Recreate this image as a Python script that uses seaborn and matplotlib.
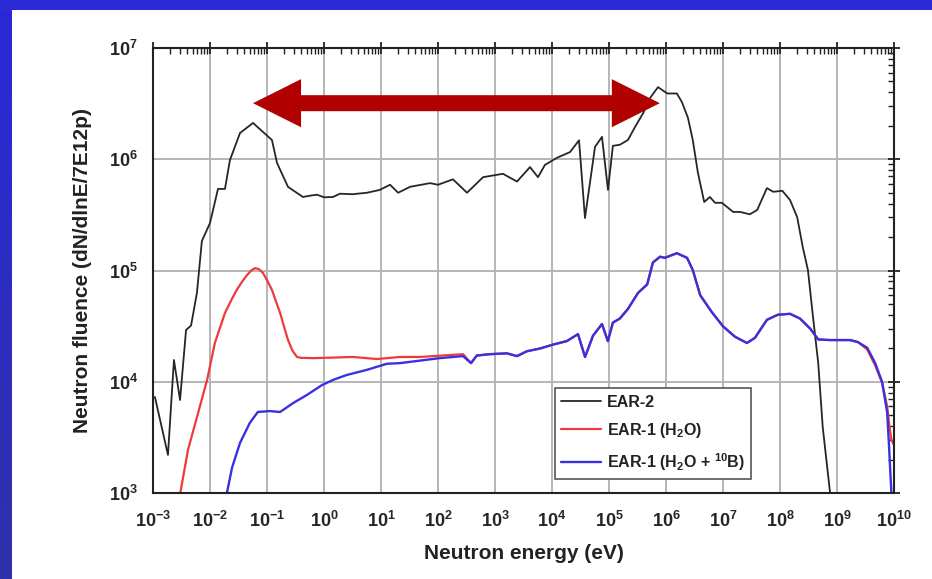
import numpy as np
import pandas as pd
import matplotlib
matplotlib.use("Agg")
import matplotlib.pyplot as plt
import seaborn as sns
from matplotlib.ticker import LogLocator, FuncFormatter, NullFormatter
from matplotlib.patches import Polygon

# ---------------- data ----------------
ear2_E = [1.08e-3, 1.83e-3, 2.33e-3, 2.98e-3, 3.8e-3, 4.65e-3, 5.9e-3, 7.2e-3, 1.0e-2,
          1.38e-2, 1.83e-2, 2.24e-2, 3.36e-2, 5.68e-2, 8.5e-2, 0.122, 0.15, 0.234, 0.427,
          0.56, 0.753, 1.0, 1.44, 1.9, 3.16, 5.68, 9.5, 14.4, 20, 32.3, 72.4, 100, 183, 323,
          617, 1380, 2430, 4110, 5680, 7530, 1.22e4, 2.07e4, 2.98e4, 3.79e4, 5.68e4, 7.53e4,
          9.6e4, 1.17e5, 1.55e5, 2.15e5, 2.86e5, 3.98e5, 5.25e5, 7.24e5, 1.05e6, 1.55e6,
          1.9e6, 2.43e6, 2.95e6, 3.63e6, 4.68e6, 5.89e6, 7.24e6, 9.55e6, 1.51e7, 2.0e7,
          2.95e7, 3.98e7, 5.89e7, 7.59e7, 1.1e8, 1.5e8, 2.0e8, 2.51e8, 3.09e8, 3.8e8,
          4.68e8, 5.62e8, 7.94e8]
ear2_F = [7300, 2200, 15700, 6850, 29200, 32000, 63000, 184000, 267000,
          541000, 541000, 985000, 1.72e6, 2.12e6, 1.76e6, 1.49e6, 925000, 564000, 458000,
          470000, 480000, 455000, 458000, 490000, 485000, 500000, 530000, 590000, 500000,
          565000, 610000, 590000, 660000, 500000,
          690000, 740000, 630000, 850000, 690000, 890000, 1.03e6, 1.16e6, 1.48e6, 296000,
          1.29e6, 1.59e6,
          530000, 1.32e6, 1.35e6, 1.49e6, 1.95e6, 2.6e6, 3.55e6, 4.45e6, 3.9e6, 3.9e6,
          3.27e6, 2.35e6, 1.49e6, 755000, 413000, 458000, 406000, 406000, 336000, 336000,
          320000, 350000, 550000, 510000, 520000, 430000, 302000, 162000, 101000, 38000,
          14800, 3900, 800]

h2o_low_E = [2.9e-3, 4.11e-3, 5.9e-3, 8.9e-3, 1.22e-2, 1.83e-2, 2.4e-2, 2.95e-2, 3.7e-2,
             4.47e-2, 5.3e-2, 6.17e-2, 7.2e-2, 8.5e-2, 0.1, 0.122, 0.145, 0.17, 0.2, 0.234,
             0.28, 0.336, 0.4, 0.646, 3.24, 8.5, 21.4, 48.3, 275]
h2o_low_F = [900, 2440, 4800, 10400, 22400, 41500, 55000, 67000, 80000,
             91000, 100000, 105000, 103000, 95000, 82000, 67000, 52000, 41500, 31000, 23700,
             19000, 16700, 16400, 16300, 16700, 16000, 16700, 16700, 17700]

boron_low_E = [1.9e-2, 2.43e-2, 3.36e-2, 5.0e-2, 6.9e-2, 0.112, 0.17, 0.288, 0.5, 0.92,
               1.45, 2.5, 5.68, 12.6, 21.4, 107, 275]
boron_low_F = [900, 1680, 2820, 4270, 5350, 5450, 5350, 6440, 7600, 9330,
               10400, 11500, 12800, 14500, 14700, 16300, 17000]

ear1_fast_E = [380, 479, 813, 1620, 2430, 3630, 6170, 1.05e4, 1.82e4, 2.86e4, 3.8e4, 5.25e4,
               7.53e4, 9.55e4, 1.17e5, 1.55e5, 2.14e5, 3.24e5, 4.68e5, 5.89e5, 7.86e5,
               9.55e5, 1.55e6, 2.34e6, 2.95e6, 3.98e6, 6.31e6, 1.0e7, 1.62e7, 2.63e7, 3.63e7,
               5.89e7, 9.12e7, 1.5e8, 2.24e8, 3.39e8, 4.68e8, 7.59e8, 1.7e9, 2.34e9]
ear1_fast_F = [14700, 17200, 17700, 18000, 17000, 18800, 19900, 21600, 23200, 26800, 16700,
               26000, 33000, 23200, 34000, 37000, 45000, 63000, 75000, 118000, 133000,
               130000, 143000, 130000, 101000, 60000, 42500, 31500, 25400, 22300, 24800,
               36000, 40000, 40800, 37000, 30000, 24000, 23700, 23700, 22700]

h2o_tail_E = [3.39e9, 4.68e9, 6.17e9, 7.59e9, 8.3e9, 9.0e9, 1.0e10]
h2o_tail_F = [19500, 14000, 9800, 6000, 4000, 3000, 2700]
boron_tail_E = [3.39e9, 4.68e9, 6.17e9, 7.59e9, 8.13e9, 9.2e9]
boron_tail_F = [20200, 14700, 10000, 5300, 2800, 800]

series_labels = ["EAR-2", "EAR-1 (H$_\\mathbf{2}$O)", "EAR-1 (H$_\\mathbf{2}$O + $^\\mathbf{10}$B)"]
series_colors = ["#262626", "#f03a3a", "#3a30e0"]
series_widths = [1.3, 1.6, 1.7]

x_decades = list(range(-3, 11))
y_decades = list(range(3, 8))

# ---------------- figure ----------------
sns.set_theme(style="white")
plt.rcParams["font.family"] = ["Liberation Sans", "DejaVu Sans"]
plt.rcParams["font.weight"] = "bold"
plt.rcParams["mathtext.fontset"] = "custom"
plt.rcParams["mathtext.bf"] = "Liberation Sans:bold"
plt.rcParams["mathtext.rm"] = "Liberation Sans:bold"
plt.rcParams["mathtext.default"] = "bf"

W, H = 932, 579
fig = plt.figure(figsize=(W / 100, H / 100), dpi=100, facecolor="white")

# blue frame at left and top (slide background)
left_band = np.zeros((H, 12, 3))
t = np.linspace(0, 1, H)[:, None]
left_band[:, :, 0] = (42 + 6 * t) / 255
left_band[:, :, 1] = (40 + 8 * t) / 255
left_band[:, :, 2] = (216 - 46 * t) / 255
fig.figimage(left_band, xo=0, yo=0, origin="upper", zorder=0)
top_band = np.zeros((10, W, 3))
top_band[:, :, 0] = 44 / 255
top_band[:, :, 1] = 42 / 255
top_band[:, :, 2] = 212 / 255
fig.figimage(top_band, xo=0, yo=H - 10, origin="upper", zorder=0)

ax = fig.add_axes([153 / W, 1 - 493 / H, (894 - 153) / W, (493 - 48) / H])
ax.set_facecolor("white")

red_E = h2o_low_E + ear1_fast_E + h2o_tail_E
red_F = h2o_low_F + ear1_fast_F + h2o_tail_F
blue_E = boron_low_E + ear1_fast_E + boron_tail_E
blue_F = boron_low_F + ear1_fast_F + boron_tail_F

for E, F, lab, col, lw in zip([ear2_E, red_E, blue_E], [ear2_F, red_F, blue_F],
                              series_labels, series_colors, series_widths):
    df = pd.DataFrame({"E": E, "F": F})
    sns.lineplot(data=df, x="E", y="F", ax=ax, color=col, lw=lw, label=lab,
                 estimator=None, sort=False)

ax.set_xscale("log")
ax.set_yscale("log")
ax.set_xlim(10.0 ** x_decades[0], 10.0 ** x_decades[-1])
ax.set_ylim(10.0 ** y_decades[0], 10.0 ** y_decades[-1])

ax.set_xticks([10.0 ** d for d in x_decades])
ax.set_yticks([10.0 ** d for d in y_decades])
ax.xaxis.set_minor_locator(LogLocator(base=10, subs=np.arange(2, 10), numticks=100))
ax.yaxis.set_minor_locator(LogLocator(base=10, subs=np.arange(2, 10), numticks=100))
ax.xaxis.set_minor_formatter(NullFormatter())
ax.yaxis.set_minor_formatter(NullFormatter())
fmt = FuncFormatter(lambda v, p: r"$\mathbf{10^{%d}}$" % int(round(np.log10(v))))
ax.xaxis.set_major_formatter(fmt)
ax.yaxis.set_major_formatter(fmt)

ax.tick_params(which="major", direction="inout", length=8, width=1.3, color="#222222",
               labelsize=13, top=True, right=True, pad=5)
ax.tick_params(which="minor", direction="in", length=4, width=1.0, color="#222222",
               top=True, right=True)
ax.tick_params(axis="x", which="major", pad=9)
ax.tick_params(axis="y", which="major", pad=7)

ax.grid(True, which="major", color="#b5b5b5", lw=1.4)
ax.set_axisbelow(True)
for s in ax.spines.values():
    s.set_visible(True)
    s.set_color("#222222")
    s.set_linewidth(1.5)

ax.set_xlabel("Neutron energy (eV)", fontsize=15, fontweight="bold", color="#222222", labelpad=9)
ax.set_ylabel("Neutron fluence (dN/dlnE/7E12p)", fontsize=15, fontweight="bold",
              color="#222222", labelpad=12)

# double-headed red arrow (annotation, in axes fraction)
xl, xr, yc = 0.135, 0.684, 0.876
hl, hh, sh = 0.0648, 0.054, 0.018
arrow = Polygon([(xl, yc), (xl + hl, yc + hh), (xl + hl, yc + sh), (xr - hl, yc + sh),
                 (xr - hl, yc + hh), (xr, yc), (xr - hl, yc - hh), (xr - hl, yc - sh),
                 (xl + hl, yc - sh), (xl + hl, yc - hh)], closed=True,
                transform=ax.transAxes, facecolor="#b00000", edgecolor="none", zorder=5)
ax.add_patch(arrow)

leg = ax.legend(loc="lower left", bbox_to_anchor=(0.5425, 0.0315), fontsize=11.5,
                frameon=True, fancybox=False, edgecolor="#555555", framealpha=1,
                handlelength=2.5, handletextpad=0.35, labelspacing=0.7, borderpad=0.4,
                borderaxespad=0)
leg.get_frame().set_linewidth(1.2)
for txt in leg.get_texts():
    txt.set_fontweight("bold")
    txt.set_color("#222222")

fig.savefig("out.png", dpi=100, facecolor="white")
